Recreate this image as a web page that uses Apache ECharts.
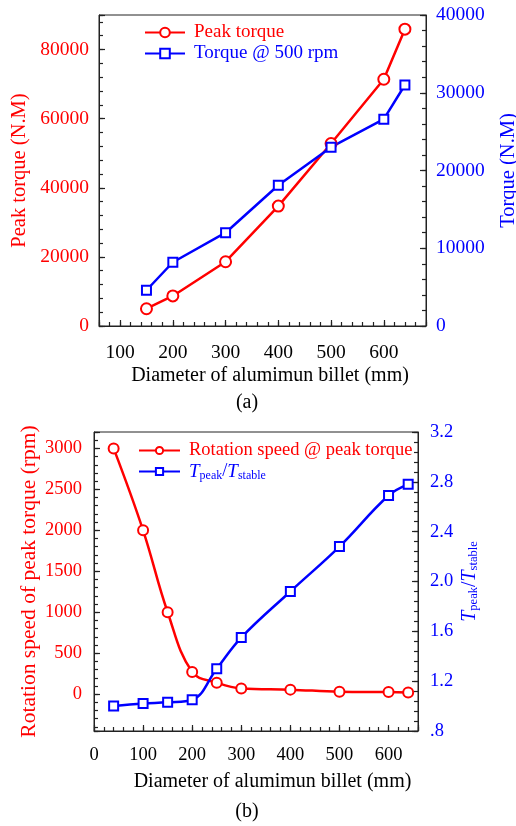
<!DOCTYPE html>
<html>
<head>
<meta charset="utf-8">
<script src="https://cdn.jsdelivr.net/npm/echarts@6/dist/echarts.min.js"></script>
<style>
  html, body { margin: 0; padding: 0; background: #fff; }
  #chart { width: 516px; height: 826px; }
</style>
</head>
<body>
<div id="chart"></div>
<script>
// (a) torque against billet diameter
const diaA = [150, 200, 300, 400, 500, 600, 640];
const peakTorque = [5000, 8700, 18600, 34700, 52800, 71400, 85900];
const torque500 = [4600, 8200, 12000, 18100, 23000, 26600, 31000];

// (b) rotation speed at peak torque and torque ratio against billet diameter
const diaB = [40, 100, 150, 200, 250, 300, 400, 500, 600, 640];
const rotSpeed = [3000, 2000, 1000, 270, 140, 70, 55, 30, 25, 20];
const torqueRatio = [1.00, 1.02, 1.03, 1.05, 1.30, 1.55, 1.92, 2.28, 2.69, 2.78];

// labelled tick values
const xTicksA = [100, 200, 300, 400, 500, 600];
const yTicksA = [0, 20000, 40000, 60000, 80000];
const y2TicksA = [0, 10000, 20000, 30000, 40000];
const xTicksB = [0, 100, 200, 300, 400, 500, 600];
const yTicksB = [0, 500, 1000, 1500, 2000, 2500, 3000];
const y2TicksB = [0.8, 1.2, 1.6, 2.0, 2.4, 2.8, 3.2];

const RED = '#ff0000';
const BLUE = '#0000ff';
const INK = '#222222';
const FONT = '"Liberation Serif", "Times New Roman", serif';

// main axis: line, long inner ticks, labels
// spacing: { interval } when min is a multiple of it, else { splitNumber } so ticks land on round values
function mainAxis(grid, pos, min, max, spacing, labels, labelOpt) {
  return Object.assign({
    type: 'value', gridIndex: grid, position: pos, min: min, max: max,
    axisLine: { show: true, onZero: false, lineStyle: { color: INK, width: 1 } },
    axisTick: { show: true, inside: true, length: 6, lineStyle: { color: INK, width: 1.2 } },
    axisLabel: Object.assign({
      customValues: labels, fontFamily: FONT, color: '#000',
      formatter: v => String(v)
    }, labelOpt),
    splitLine: { show: false },
    nameMoveOverlap: false
  }, spacing);
}
// overlay axis carrying only the short minor ticks
function minorAxis(grid, pos, min, max, spacing) {
  return Object.assign({
    type: 'value', gridIndex: grid, position: pos, min: min, max: max,
    axisLine: { show: false, onZero: false },
    axisTick: { show: true, inside: true, length: 4, lineStyle: { color: INK, width: 1.2 } },
    axisLabel: { show: false },
    splitLine: { show: false }
  }, spacing);
}

const xName = 'Diameter of alumimun billet (mm)';
const xAxes = [
  Object.assign(mainAxis(0, 'bottom', 60, 680, { splitNumber: 6 }, xTicksA, { fontSize: 19.5, margin: 17 }), {
    name: xName, nameLocation: 'middle', nameGap: 40,
    nameTextStyle: { fontFamily: FONT, fontSize: 20, color: '#000', padding: [0, 0, 0, 15] }
  }),
  minorAxis(0, 'bottom', 60, 680, { interval: 20 }),
  Object.assign(mainAxis(1, 'bottom', 0, 660, { interval: 100 }, xTicksB, { fontSize: 18.5, margin: 15 }), {
    name: xName, nameLocation: 'middle', nameGap: 41,
    nameTextStyle: { fontFamily: FONT, fontSize: 20, color: '#000', padding: [0, 0, 0, 33] }
  }),
  minorAxis(1, 'bottom', 0, 660, { interval: 20 })
];

const ratioRich = {
  i: { fontFamily: FONT, fontStyle: 'italic', fontSize: 20, color: BLUE, verticalAlign: 'bottom', lineHeight: 20 },
  s: { fontFamily: FONT, fontSize: 12.5, color: BLUE, verticalAlign: 'bottom', lineHeight: 14 }
};
const ratioText = '{i|T}{s|peak}/{i|T}{s|stable}';

const yAxes = [
  Object.assign(mainAxis(0, 'left', 0, 90000, { interval: 20000 }, yTicksA, { fontSize: 19.5, margin: 10, color: RED }), {
    name: 'Peak torque (N.M)', nameLocation: 'middle', nameGap: 69, nameRotate: 90,
    nameTextStyle: { fontFamily: FONT, fontSize: 20.5, color: RED }
  }),
  minorAxis(0, 'left', 0, 90000, { interval: 4000 }),
  Object.assign(mainAxis(0, 'right', 0, 40000, { interval: 10000 }, y2TicksA, { fontSize: 19.5, margin: 10, color: BLUE }), {
    name: 'Torque (N.M)', nameLocation: 'middle', nameGap: 72, nameRotate: 90,
    nameTextStyle: { fontFamily: FONT, fontSize: 20.5, color: BLUE }
  }),
  minorAxis(0, 'right', 0, 40000, { interval: 2000 }),
  Object.assign(mainAxis(1, 'left', -450, 3200, { splitNumber: 7 }, yTicksB, { fontSize: 18.5, margin: 12, color: RED }), {
    name: 'Rotation speed of peak torque (rpm)', nameLocation: 'middle', nameGap: 54, nameRotate: 90,
    nameTextStyle: { fontFamily: FONT, fontSize: 21.5, color: RED }
  }),
  minorAxis(1, 'left', -450, 3200, { splitNumber: 36 }),
  Object.assign(mainAxis(1, 'right', 0.8, 3.2, { interval: 0.4 }, y2TicksB, {
    fontSize: 18.5, margin: 12, color: BLUE,
    formatter: v => v.toFixed(1).replace(/^0\./, '.')
  }), {
    name: ratioText, nameLocation: 'middle', nameGap: 42, nameRotate: 90,
    nameTextStyle: { fontFamily: FONT, fontSize: 20, color: BLUE, rich: ratioRich }
  }),
  minorAxis(1, 'right', 0.8, 3.2, { interval: 0.08 })
];

const pairs = (xs, ys) => xs.map((x, i) => [x, ys[i]]);

const option = {
  animation: false,
  backgroundColor: '#fff',
  textStyle: { fontFamily: FONT },
  grid: [
    { left: 99, top: 15, width: 327, height: 311, outerBoundsMode: 'none',
      show: true, borderColor: INK, borderWidth: 1 },
    { left: 94, top: 432, width: 324, height: 299, outerBoundsMode: 'none',
      show: true, borderColor: INK, borderWidth: 1 }
  ],
  xAxis: xAxes,
  yAxis: yAxes,
  legend: [
    {
      orient: 'vertical', left: 144, top: 23, padding: 0, itemWidth: 40, itemHeight: 12, itemGap: 2,
      data: [
        { name: 'Peak torque', textStyle: { color: RED } },
        { name: 'Torque @ 500 rpm', textStyle: { color: BLUE } }
      ],
      textStyle: { fontFamily: FONT, fontSize: 19, padding: [0, 0, 0, 4] }
    },
    {
      orient: 'vertical', left: 138, top: 441, padding: 0, itemWidth: 41, itemHeight: 9, itemGap: 2,
      data: [
        { name: 'Rotation speed @ peak torque', textStyle: { color: RED } },
        { name: 'ratio', textStyle: { color: BLUE } }
      ],
      formatter: name => name === 'ratio' ? ratioText : name,
      textStyle: { fontFamily: FONT, fontSize: 18.5, padding: [0, 0, 0, 4], rich: {
        i: Object.assign({}, ratioRich.i, { fontSize: 19 }),
        s: Object.assign({}, ratioRich.s, { fontSize: 12 })
      } }
    }
  ],
  series: [
    {
      name: 'Peak torque', type: 'line', xAxisIndex: 0, yAxisIndex: 0,
      data: pairs(diaA, peakTorque),
      symbol: 'emptyCircle', symbolSize: 11,
      lineStyle: { color: RED, width: 2.5 },
      itemStyle: { color: RED, borderWidth: 1.8 }
    },
    {
      name: 'Torque @ 500 rpm', type: 'line', xAxisIndex: 0, yAxisIndex: 2,
      data: pairs(diaA, torque500),
      symbol: 'emptyRect', symbolSize: 9,
      lineStyle: { color: BLUE, width: 2.5 },
      itemStyle: { color: BLUE, borderWidth: 1.8 }
    },
    {
      name: 'Rotation speed @ peak torque', type: 'line', xAxisIndex: 2, yAxisIndex: 4,
      data: pairs(diaB, rotSpeed), smooth: 0.4,
      symbol: 'emptyCircle', symbolSize: 10,
      lineStyle: { color: RED, width: 2.5 },
      itemStyle: { color: RED, borderWidth: 1.8 }
    },
    {
      name: 'ratio', type: 'line', xAxisIndex: 2, yAxisIndex: 6,
      data: pairs(diaB, torqueRatio), smooth: 0.4,
      symbol: 'emptyRect', symbolSize: 9,
      lineStyle: { color: BLUE, width: 2.5 },
      itemStyle: { color: BLUE, borderWidth: 1.8 }
    }
  ],
  graphic: [
    { type: 'text', style: { text: '(a)', x: 247, y: 403, fontFamily: FONT, fontSize: 20, fill: '#000', align: 'center', verticalAlign: 'middle' } },
    { type: 'text', style: { text: '(b)', x: 247, y: 812, fontFamily: FONT, fontSize: 20, fill: '#000', align: 'center', verticalAlign: 'middle' } }
  ]
};

const chart = echarts.init(document.getElementById('chart'), null, { renderer: 'canvas' });
chart.setOption(option);
</script>
</body>
</html>
